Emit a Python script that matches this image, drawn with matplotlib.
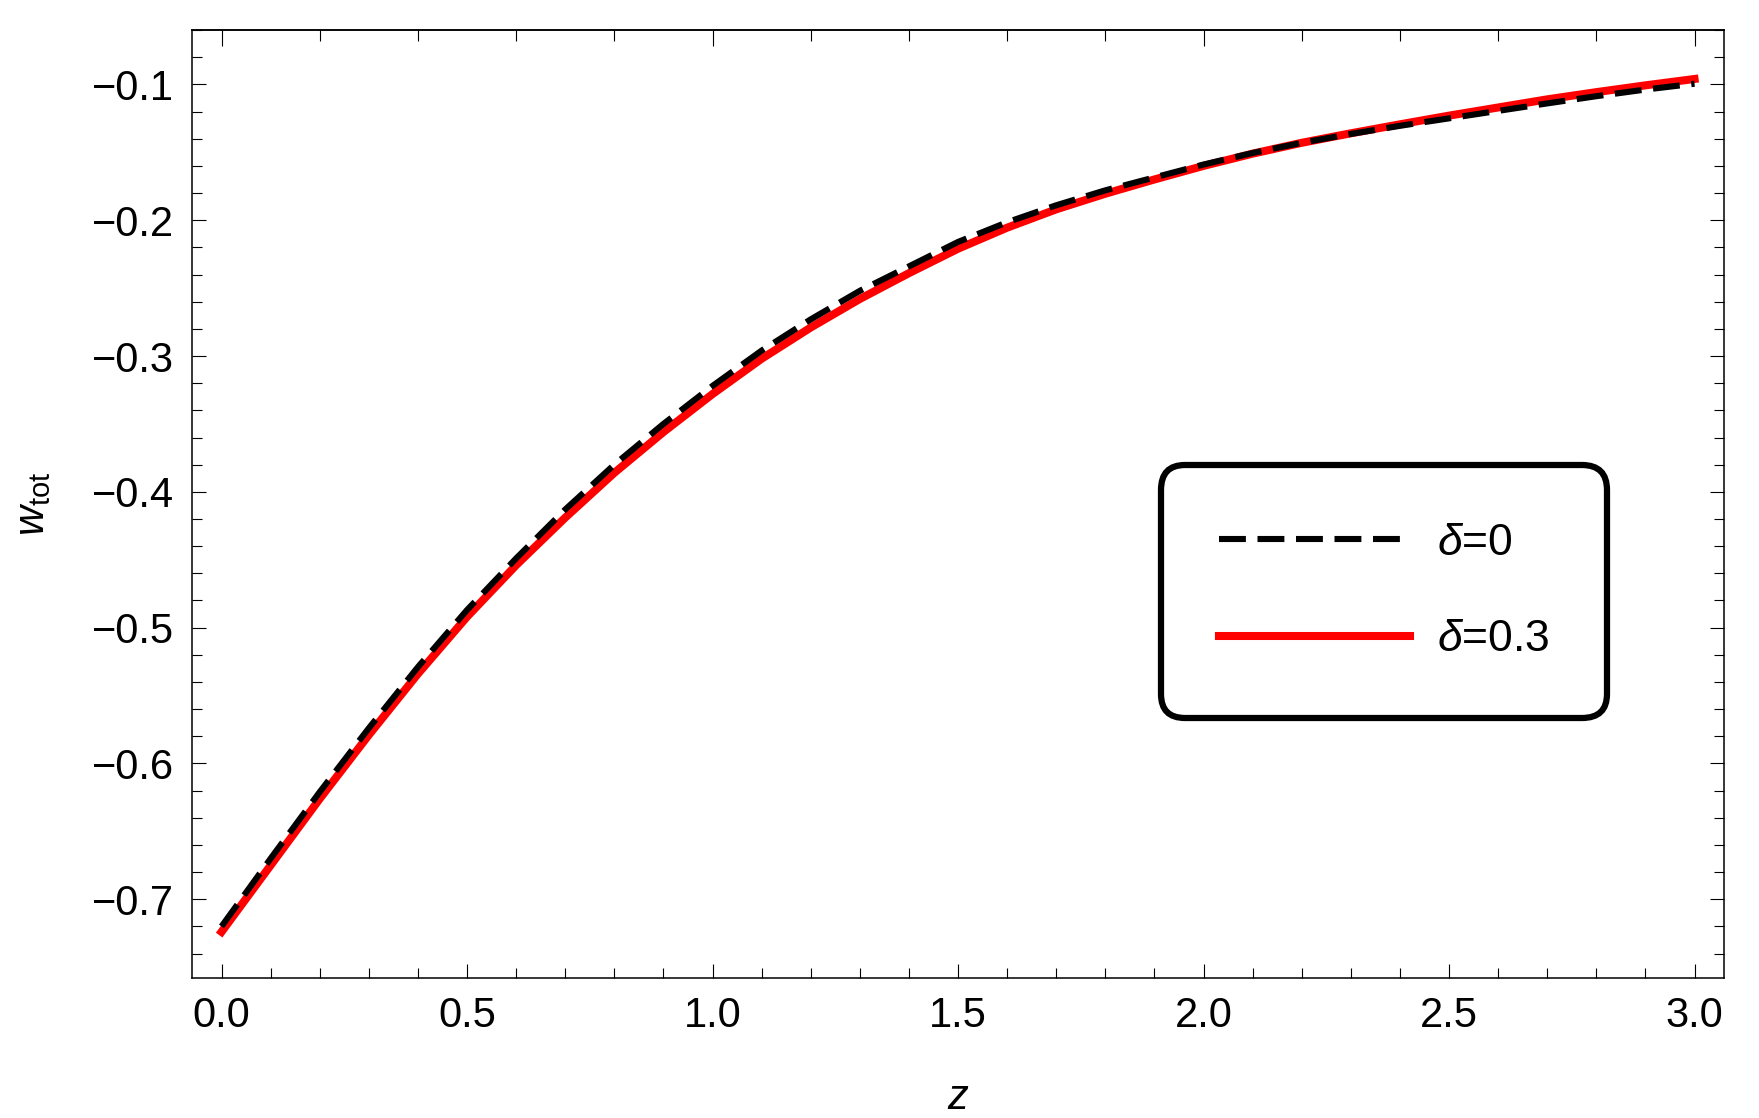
import numpy as np
import matplotlib
matplotlib.use('Agg')
import matplotlib.pyplot as plt
from matplotlib.ticker import MultipleLocator

plt.rcParams['font.family'] = ['Liberation Sans', 'DejaVu Sans']
plt.rcParams['mathtext.fontset'] = 'custom'
plt.rcParams['mathtext.rm'] = 'Liberation Sans'
plt.rcParams['mathtext.it'] = 'Liberation Sans:italic'

# values
z = [0.0, 0.1, 0.2, 0.3, 0.4, 0.5, 0.6, 0.7, 0.8, 0.9, 1.0,
     1.1, 1.2, 1.3, 1.4, 1.5, 1.6, 1.7, 1.8, 1.9, 2.0,
     2.1, 2.2, 2.3, 2.4, 2.5, 2.6, 2.7, 2.8, 2.9, 3.0]

w_delta0 = [-0.720, -0.670, -0.621, -0.574, -0.529, -0.487, -0.449, -0.413, -0.380, -0.350, -0.322,
            -0.296, -0.273, -0.252, -0.234, -0.216, -0.2015, -0.189, -0.178, -0.1685, -0.159,
            -0.1505, -0.143, -0.1365, -0.1305, -0.125, -0.1195, -0.114, -0.1087, -0.1038, -0.0995]

w_delta03 = [-0.724, -0.675, -0.626, -0.579, -0.534, -0.492, -0.454, -0.419, -0.386, -0.356, -0.328,
             -0.302, -0.279, -0.258, -0.239, -0.221, -0.2055, -0.192, -0.1805, -0.170, -0.160,
             -0.151, -0.143, -0.136, -0.1294, -0.123, -0.117, -0.111, -0.1057, -0.1007, -0.096]

labels = [r'$\delta$=0', r'$\delta$=0.3']

fig = plt.figure(figsize=(17.59, 11.18), dpi=100)
ax = fig.add_axes([0.1092, 0.1252, 0.8709, 0.8479])

ax.plot(z, w_delta0, color='black', lw=4.4, dashes=(4.4, 1.9), label=labels[0], zorder=3)
ax.plot(z, w_delta03, color='red', lw=5.8, label=labels[1], zorder=2,
        solid_joinstyle='round')

ax.set_xlim(-0.06, 3.06)
ax.set_ylim(-0.758, -0.060)

ax.xaxis.set_major_locator(MultipleLocator(0.5))
ax.xaxis.set_minor_locator(MultipleLocator(0.1))
ax.yaxis.set_major_locator(MultipleLocator(0.1))
ax.yaxis.set_minor_locator(MultipleLocator(0.02))
ax.xaxis.set_major_formatter(matplotlib.ticker.FormatStrFormatter('%.1f'))
ax.yaxis.set_major_formatter(matplotlib.ticker.FuncFormatter(lambda v, p: ('%.1f' % v).replace('-', '\u2212')))

ax.tick_params(which='both', direction='in', top=False, right=True, width=0.8, labelsize=30, pad=13)
ax.tick_params(which='major', length=10)
ax.tick_params(which='minor', length=7.5)

# top frame ticks: majors on integers, minors every 0.2, no labels
top = ax.secondary_xaxis('top')
top.set_xticks([0, 1, 2, 3])
top.xaxis.set_minor_locator(MultipleLocator(0.2))
top.tick_params(which='both', direction='in', labeltop=False, width=0.8)
top.tick_params(which='major', length=11.5)
top.tick_params(which='minor', length=8)
top.spines['top'].set_linewidth(1.1)

for s in ax.spines.values():
    s.set_linewidth(1.1)

ax.set_xlabel(r'$z$', fontsize=30, labelpad=30)
ax.set_ylabel(r'$w_{\mathrm{tot}}$', fontsize=30, labelpad=28)

leg = ax.legend(loc='upper left', bbox_to_anchor=(0.6325, 0.5411), borderaxespad=0,
                fontsize=32, handlelength=4.3, handletextpad=0.6, labelspacing=1.25,
                borderpad=1.3, fancybox=True, framealpha=1, edgecolor='black')
leg.get_frame().set_linewidth(4.5)
leg.get_frame().set_boxstyle('round', pad=0, rounding_size=0.55)

fig.savefig('out.png', dpi=100)
